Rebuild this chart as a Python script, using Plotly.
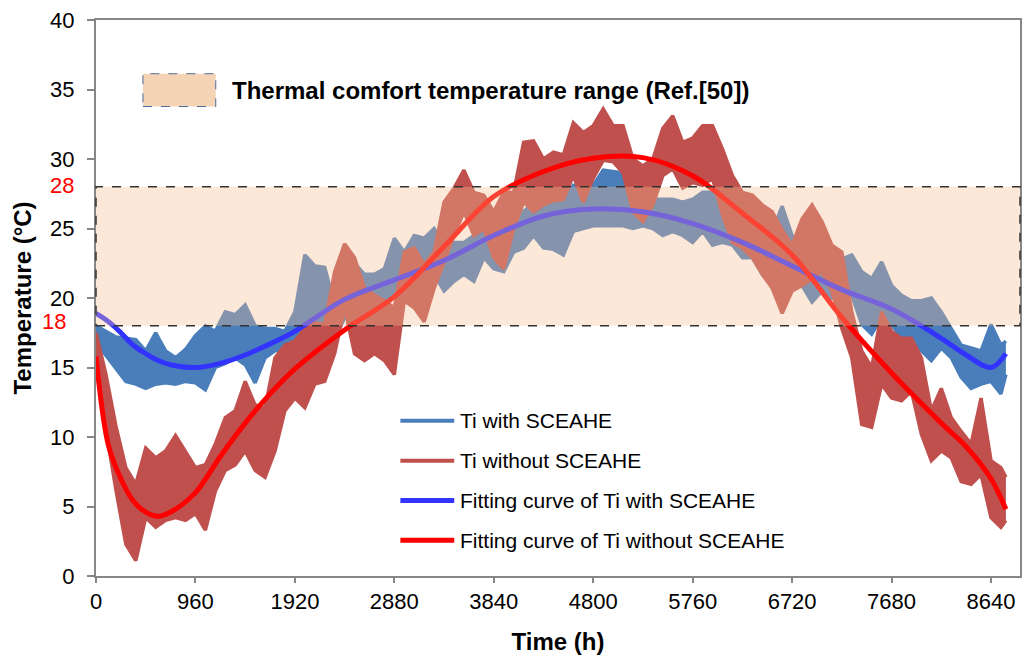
import plotly.graph_objects as go

# ---- hourly indoor temperature, summarised every 96 h as upper / lower envelope ----
hours = [96 * i for i in range(92)] + [8784]

ti_with_upper = [
    18.0, 17.6, 17.2, 17.1, 17.0, 16.2, 17.5, 16.2, 15.7, 16.3, 17.3, 18.0,
    17.6, 19.0, 18.8, 19.5, 18.0, 17.8, 17.8, 17.6, 19.0, 23.1, 22.3, 22.2,
    19.5, 20.3, 22.5, 21.7, 21.7, 22.1, 24.3, 23.3, 24.5, 24.3, 25.0, 23.8,
    24.0, 24.0, 24.5, 24.8, 25.0, 25.7, 26.7, 26.2, 26.9, 26.4, 27.0,
    26.9, 28.1, 27.9, 28.1, 29.2, 29.1, 29.0, 27.6, 26.9, 27.1, 27.1, 27.1,
    26.9, 27.1, 27.6, 27.6, 26.4, 25.2, 24.8, 24.5, 24.3, 24.8,
    26.6, 24.5, 23.8, 22.6, 23.0, 22.5, 22.8, 23.1, 21.9, 21.4, 22.6, 20.9,
    20.2, 19.8, 19.8, 20.0, 19.0, 17.8, 16.6, 16.4, 16.2, 18.1, 16.6, 16.9,
]
ti_with_lower = [
    16.8, 15.9, 15.0, 14.0, 13.8, 13.5, 13.8, 13.9, 13.8, 14.0, 13.9, 13.4,
    15.0, 15.3, 15.7, 15.2, 13.9, 15.7, 16.2, 16.3, 16.5, 17.3, 17.8, 17.6,
    17.0, 18.6, 19.7, 18.8, 19.8, 19.8, 20.5, 20.7, 21.4, 21.7, 21.7, 20.5,
    21.2, 21.7, 21.2, 22.9, 22.1, 21.9, 23.3, 23.6, 24.5, 23.6, 23.5,
    23.1, 24.8, 25.0, 25.2, 25.2, 25.2, 25.2, 25.0, 25.2, 25.0, 24.5, 24.8,
    24.5, 24.0, 24.8, 23.8, 24.0, 23.8, 22.9, 22.9, 21.7, 22.9,
    21.5, 21.4, 20.9, 19.7, 20.5, 20.0, 20.5, 20.2, 18.1, 17.4, 18.6, 18.1,
    17.1, 17.1, 16.2, 15.5, 16.4, 15.7, 14.3, 13.5, 13.8, 14.0, 13.1, 14.5,
]
ti_without_upper = [
    17.5, 14.5, 10.8, 7.8, 6.6, 9.2, 8.5, 9.0, 10.1, 9.0, 7.8, 8.0,
    9.5, 11.4, 11.9, 14.0, 12.3, 12.1, 15.7, 16.6, 16.9, 17.8, 18.2, 18.1,
    21.9, 23.9, 22.9, 20.7, 20.2, 19.8, 19.3, 23.3, 23.6, 22.4, 23.3, 26.9,
    27.9, 29.2, 27.6, 27.4, 26.2, 27.6, 27.6, 31.2, 31.3, 30.0, 30.5,
    30.3, 32.6, 31.9, 32.4, 33.6, 32.4, 32.4, 30.0, 29.5, 30.0, 32.2, 33.1,
    31.2, 31.5, 32.4, 32.4, 30.7, 28.8, 27.6, 27.4, 26.7, 26.2,
    24.9, 23.8, 25.7, 26.7, 25.5, 23.8, 23.3, 19.0, 16.2, 15.0, 19.0, 17.6,
    17.1, 17.1, 15.7, 11.9, 13.5, 11.4, 10.4, 9.5, 12.8, 8.3, 7.8, 7.1,
]
ti_without_lower = [
    15.8, 10.5, 6.2, 2.3, 1.1, 4.2, 3.5, 4.0, 4.2, 4.0, 4.5, 3.3,
    6.1, 7.6, 8.0, 9.0, 7.6, 7.1, 9.0, 11.9, 12.8, 12.1, 13.8, 14.0,
    16.0, 19.3, 16.0, 15.5, 16.0, 15.5, 14.5, 19.8, 19.3, 18.3, 20.7, 22.6,
    24.5, 26.2, 24.5, 25.0, 22.9, 22.1, 25.0, 26.9, 26.2, 26.7, 27.0,
    27.1, 28.8, 26.9, 28.6, 29.9, 29.8, 29.0, 26.2, 25.5, 26.7, 28.8, 29.3,
    27.9, 28.3, 28.1, 28.6, 26.0, 24.0, 23.6, 22.9, 21.7, 20.7,
    18.9, 20.5, 20.9, 21.4, 21.9, 20.5, 17.8, 15.7, 10.9, 10.7, 13.8, 12.8,
    12.6, 13.3, 10.2, 8.3, 9.0, 8.5, 6.8, 6.6, 7.3, 4.2, 3.5, 4.0,
]

# ---- fitted curves ----
fit_hours = [0, 120, 240, 360, 480, 600, 720, 960, 1200, 1440, 1680, 1920,
             2400, 2880, 3360, 3840, 4320, 4800, 5280, 5760, 6240, 6720,
             7200, 7680, 8160, 8400, 8640, 8784]
fit_with = [18.9, 18.3, 17.5, 16.6, 16.0, 15.5, 15.2, 15.0, 15.3, 15.9, 16.7, 17.6,
            19.9, 21.3, 22.7, 24.5, 25.9, 26.4, 26.2, 25.35, 24.0, 22.3,
            20.6, 19.2, 17.1, 15.9, 15.0, 16.0]
fit_without = [15.8, 9.4, 7.0, 5.4, 4.6, 4.3, 4.6, 6.0, 8.6, 11.0, 13.1, 14.9,
               17.7, 20.1, 23.7, 27.3, 29.1, 30.05, 30.1, 28.8, 26.1, 23.1,
               18.6, 14.6, 11.0, 9.3, 7.0, 4.8]

comfort_low, comfort_high = 18, 28
x_ticks = [0, 960, 1920, 2880, 3840, 4800, 5760, 6720, 7680, 8640]

C_WITH = "#4A7EBB"
C_WITHOUT = "#C0504D"
C_FIT_WITH = "#3333FF"
C_FIT_WITHOUT = "#FF0000"
FONT = "Arial, Liberation Sans"

fig = go.Figure()


def envelope(upper, lower, color, name):
    fig.add_trace(go.Scatter(x=hours, y=upper, mode="lines", name=name,
                             line=dict(color=color, width=3.5),
                             showlegend=False, hoverinfo="skip"))
    fig.add_trace(go.Scatter(x=hours, y=lower, mode="lines", name=name,
                             line=dict(color=color, width=3.5),
                             fill="tonexty", fillcolor=color,
                             showlegend=False))


envelope(ti_with_upper, ti_with_lower, C_WITH, "Ti with SCEAHE")
envelope(ti_without_upper, ti_without_lower, C_WITHOUT, "Ti without SCEAHE")

fig.add_trace(go.Scatter(x=fit_hours, y=fit_with, mode="lines",
                         name="Fitting curve of Ti with SCEAHE",
                         line=dict(color=C_FIT_WITH, width=5, shape="spline"),
                         showlegend=False))
fig.add_trace(go.Scatter(x=fit_hours, y=fit_without, mode="lines",
                         name="Fitting curve of Ti without SCEAHE",
                         line=dict(color=C_FIT_WITHOUT, width=5, shape="spline"),
                         showlegend=False))

shapes = [
    # comfort band, translucent, over the curves
    dict(type="rect", xref="paper", x0=0, x1=1, yref="y",
         y0=comfort_low, y1=comfort_high, layer="above",
         fillcolor="rgba(244,189,146,0.35)",
         line=dict(color="#333333", width=1.5, dash="dash")),
    # band legend swatch
    dict(type="rect", xref="paper", yref="paper",
         x0=0.0508, x1=0.1296, y0=0.8444, y1=0.9034, layer="above",
         fillcolor="#F5D3B5",
         line=dict(color="#4F6B9A", width=1, dash="dash")),
]

annotations = [
    dict(xref="paper", yref="paper", x=0.1447, y=0.874, xanchor="left",
         yanchor="middle", showarrow=False,
         text="<b>Thermal comfort temperature range (Ref.[50])</b>",
         font=dict(family=FONT, size=24, color="black")),
    dict(xref="paper", yref="y", x=-0.022, y=comfort_high, xanchor="right",
         yanchor="middle", showarrow=False, text="28", yshift=1,
         font=dict(family=FONT, size=22, color="#FF0000")),
    dict(xref="paper", yref="y", x=-0.030, y=comfort_low, xanchor="right",
         yanchor="middle", showarrow=False, text="18", yshift=4,
         font=dict(family=FONT, size=22, color="#FF0000")),
]

# line legend
legend_items = [
    ("Ti with SCEAHE", C_WITH, 4),
    ("Ti without SCEAHE", C_WITHOUT, 4),
    ("Fitting curve of Ti with SCEAHE", C_FIT_WITH, 5),
    ("Fitting curve of Ti without SCEAHE", C_FIT_WITHOUT, 5),
]
leg_y = [0.2791, 0.2075, 0.1360, 0.0644]
for (label, color, w), yy in zip(legend_items, leg_y):
    shapes.append(dict(type="line", xref="paper", yref="paper",
                       x0=0.3294, x1=0.3877, y0=yy, y1=yy,
                       line=dict(color=color, width=w), layer="above"))
    annotations.append(dict(xref="paper", yref="paper", x=0.392, y=yy,
                            xanchor="left", yanchor="middle", showarrow=False,
                            text=label,
                            font=dict(family=FONT, size=21, color="black")))

axis_font = dict(family=FONT, size=22, color="black")

fig.update_layout(
    width=1030, height=662,
    margin=dict(l=96, r=8, t=17, b=86),
    plot_bgcolor="white", paper_bgcolor="white",
    shapes=shapes, annotations=annotations,
    showlegend=False,
    font=dict(family=FONT),
)
fig.update_xaxes(
    range=[0, 8920], tickvals=x_ticks, ticks="outside", ticklen=5,
    tickcolor="#868686", tickwidth=2, showline=True, linecolor="#868686",
    linewidth=2, mirror=True, showgrid=False, zeroline=False,
    tickfont=axis_font,
    title=dict(text="<b>Time (h)</b>", standoff=20,
               font=dict(family=FONT, size=24, color="black")),
)
fig.update_yaxes(
    range=[0, 40], dtick=5, ticks="outside", ticklen=7,
    tickcolor="#868686", tickwidth=2, showline=True, linecolor="#868686",
    linewidth=2, mirror=True, showgrid=False, zeroline=False,
    tickfont=axis_font, ticklabelstandoff=8,
    title=dict(text="<b>Temperature (°C)</b>", standoff=12,
               font=dict(family=FONT, size=24, color="black")),
)

fig.write_html("out.html")
